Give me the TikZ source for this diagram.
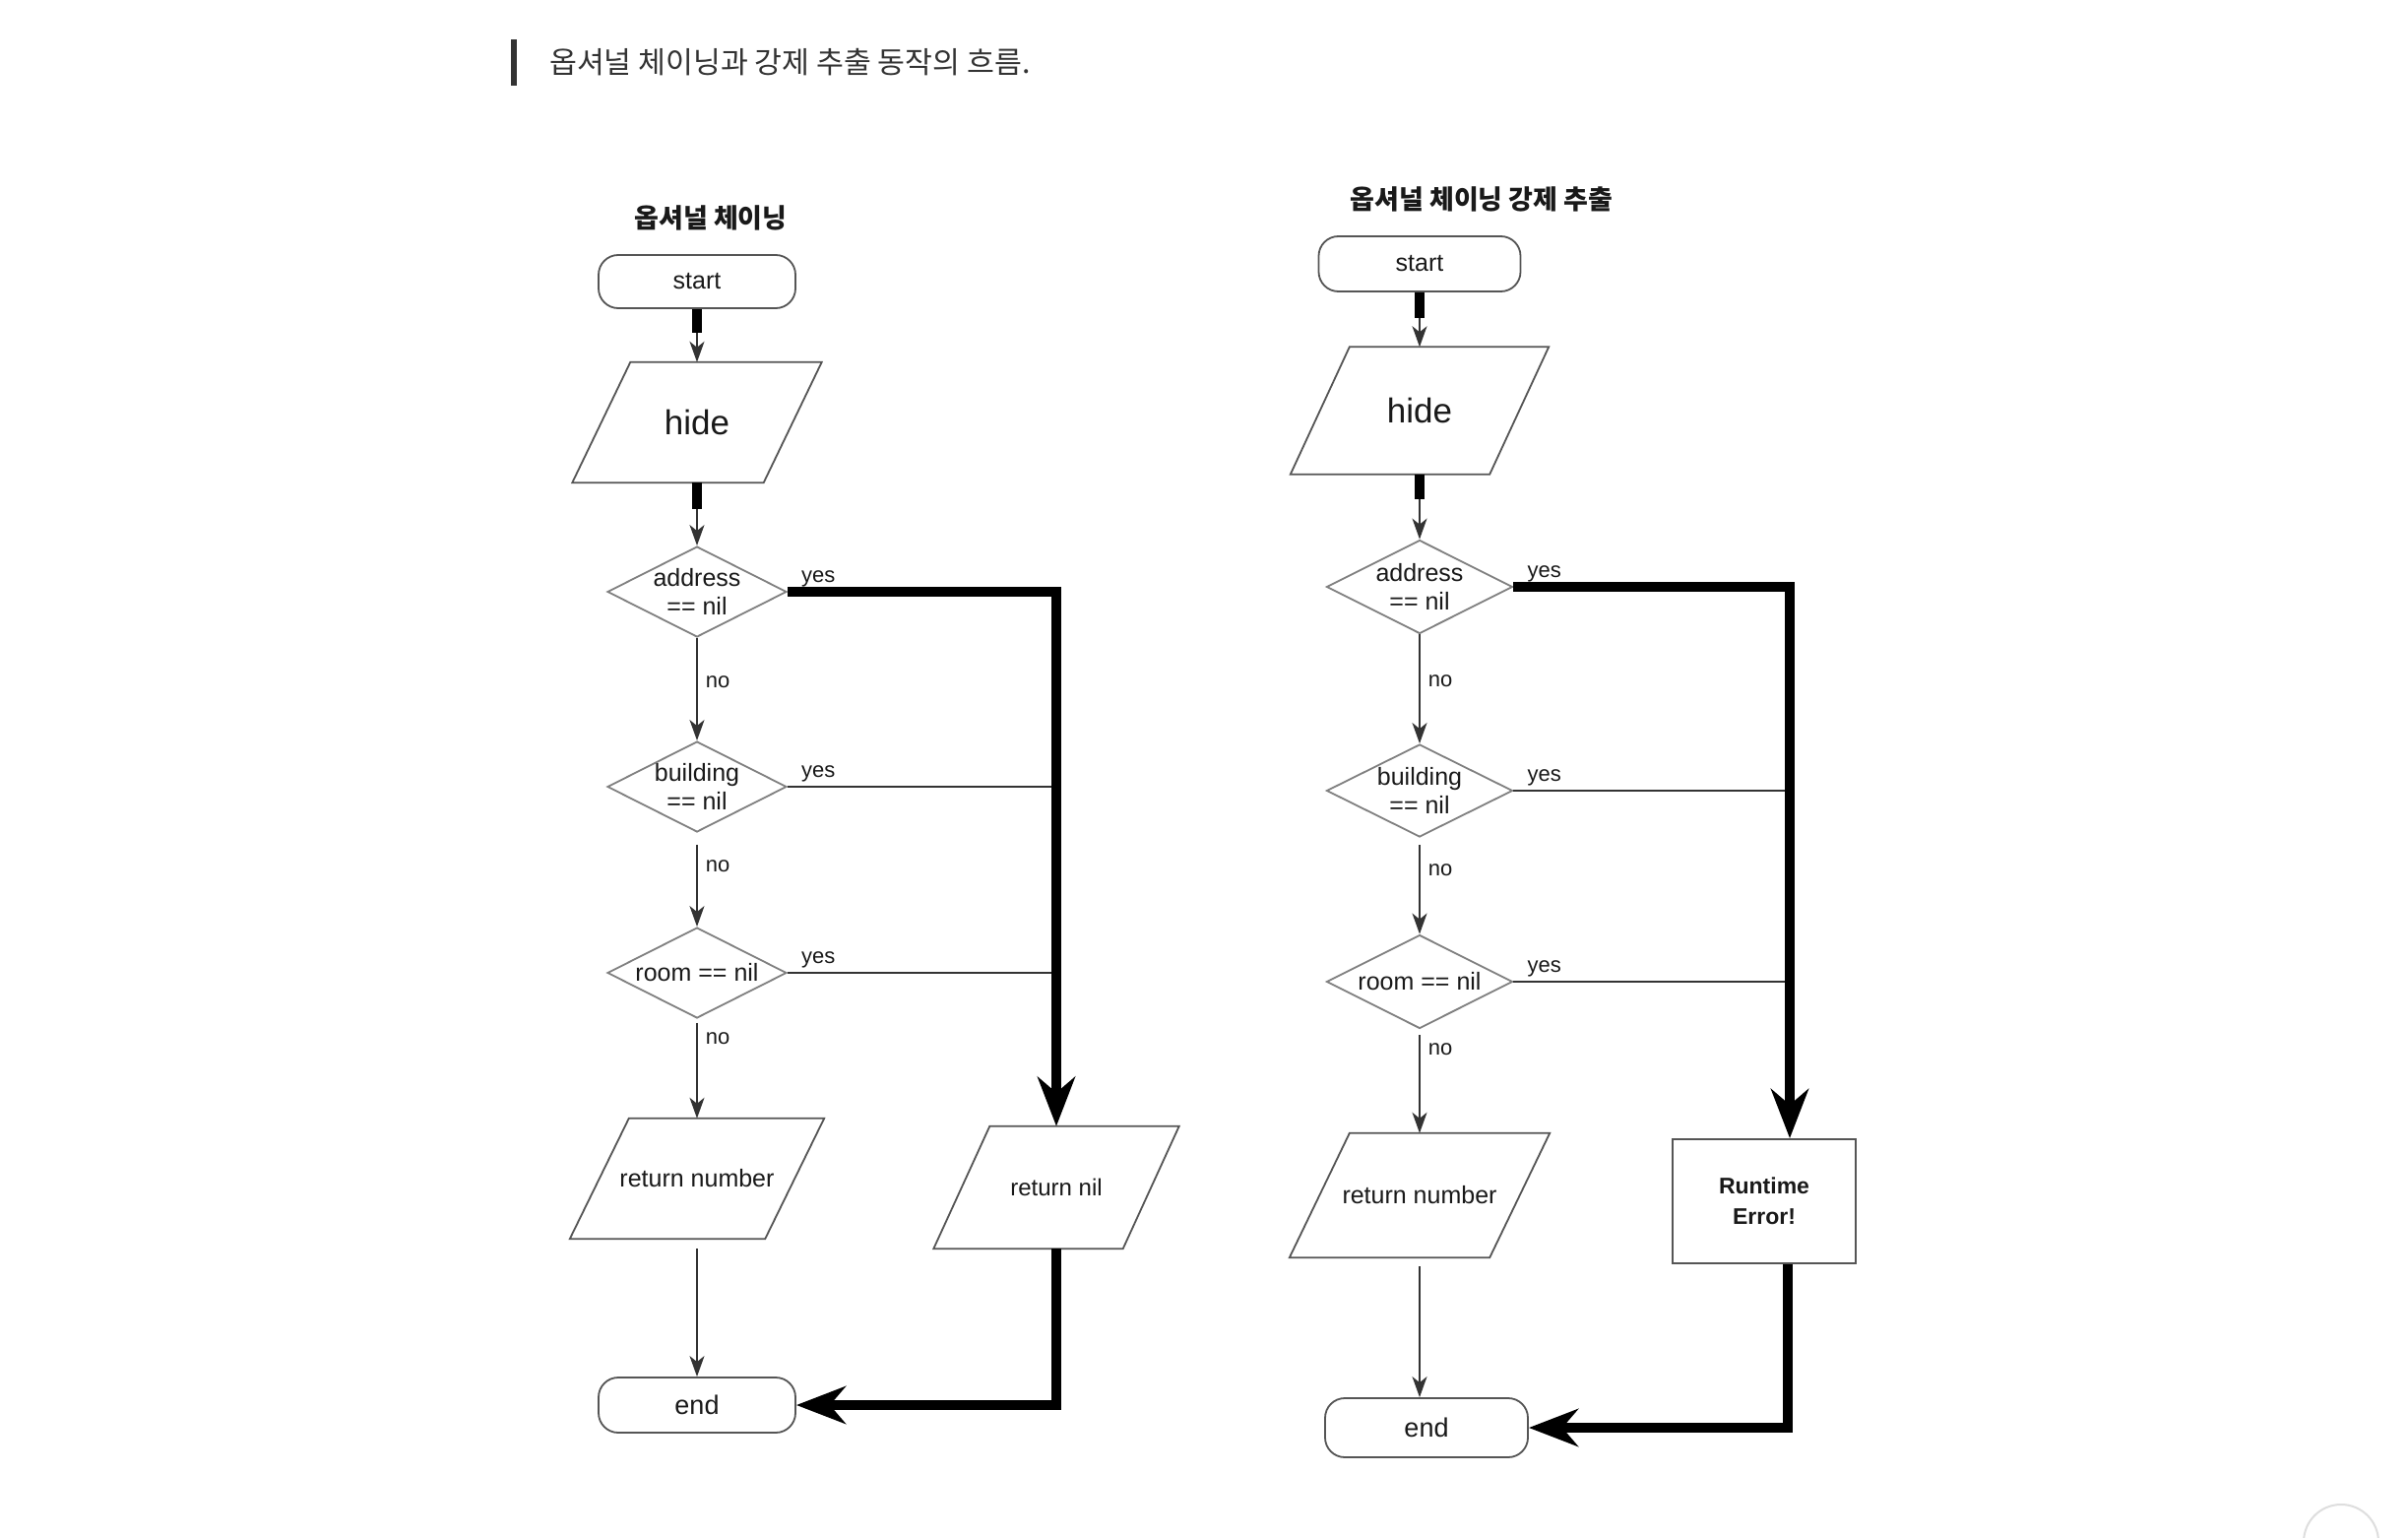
\documentclass[tikz,border=0pt]{standalone}
\usepackage{fontspec}
\setmainfont{Liberation Sans}
\newfontfamily\krfont{Noto Sans CJK KR}
\usetikzlibrary{shapes.geometric,arrows.meta,positioning}
\definecolor{hdr}{HTML}{333333}
\definecolor{edge}{HTML}{555555}
\tikzset{
	term/.style={draw=edge, line width=1.8pt, rounded corners=20pt, minimum width=200pt, minimum height=54pt, inner sep=0pt},
	io/.style={minimum width=194pt, minimum height=122pt, inner sep=0pt},
	cond/.style={diamond, aspect=2, draw=black!50, line width=1.8pt, minimum width=182pt, minimum height=92pt, inner sep=-3pt, align=center, font=\fontsize{25}{29}\selectfont},
	fail/.style={draw=edge, line width=1.8pt, minimum width=186pt, minimum height=126pt, align=center, font=\bfseries\fontsize{23}{31}\selectfont},
	ttl/.style={font=\krfont\bfseries\fontsize{27}{30}\selectfont, inner sep=0pt},
	flow/.style={draw=black!80, line width=1.6pt},
	arr/.style={flow, -{Stealth[length=21pt,width=15pt,inset=6pt]}},
	heavy/.style={draw=black, line width=10pt, -{Stealth[length=50pt,width=38pt,inset=16pt]}},
	lbl/.style={font=\fontsize{22}{24}\selectfont, inner sep=0pt},
}
\begin{document}
\begin{tikzpicture}[x=1pt, y=-1pt, line join=miter, font=\fontsize{25}{28}\selectfont, text=black!90]
	\fill[white] (0,0) rectangle (2446,1562);
	\useasboundingbox (0,0) rectangle (2446,1562);
	\fill[hdr] (519,40) rectangle (525,87);
	\node[anchor=base west, inner sep=0pt, text=hdr, font=\krfont\fontsize{30.3}{34}\selectfont] (cap) at (558,75) {옵셔널 체이닝과 강제 추출 동작의 흐름.};
	\node[ttl] (ttlL) at (722,221) {옵셔널 체이닝};
	\node[term] (startL) at (708,286) {start};
	\node[io, font=\fontsize{35}{40}\selectfont] (hideL) at (708,429) {hide};
	\node[cond] (addrL) at (708,601) {address\\== nil};
	\node[cond] (bldL) at (708,799) {building\\== nil};
	\node[cond] (roomL) at (708,988) {room == nil};
	\node[io, minimum width=198pt] (numL) at (708,1197) {return number};
	\node[io, minimum width=192pt, minimum height=124pt, font=\fontsize{24}{28}\selectfont] (nilL) at (1073,1206) {return nil};
	\node[term, minimum height=56pt, font=\fontsize{27}{30}\selectfont] (endL) at (708,1427) {end};
	\node[ttl] (ttlR) at (1505,202) {옵셔널 체이닝 강제 추출};
	\node[term, minimum width=205pt, minimum height=56pt] (startR) at (1442,268) {start};
	\node[io, minimum width=202pt, minimum height=129pt, font=\fontsize{35}{40}\selectfont] (hideR) at (1442,417) {hide};
	\node[cond, minimum width=189pt, minimum height=95pt] (addrR) at (1442,596) {address\\== nil};
	\node[cond, minimum width=189pt, minimum height=94pt] (bldR) at (1442,803) {building\\== nil};
	\node[cond, minimum width=189pt, minimum height=95pt] (roomR) at (1442,997) {room == nil};
	\node[io, minimum width=203pt, minimum height=126pt] (numR) at (1442,1214) {return number};
	\node[fail] (rteR) at (1792,1220) {Runtime\\Error!};
	\node[term, minimum width=206pt, minimum height=60pt, font=\fontsize{27}{30}\selectfont] (endR) at (1449,1450) {end};
	\foreach \n/\s in {hideL/29.5,numL/30,nilL/28.5,hideR/30,numR/30.5}
		\draw[edge, line width=1.8pt] ([xshift=\s pt]\n.north west) -- ([xshift=\s pt]\n.north east) -- ([xshift=-\s pt]\n.south east) -- ([xshift=-\s pt]\n.south west) -- cycle;
	\coordinate (rteIn) at ([xshift=26pt]rteR.north);
	\coordinate (rteOut) at ([xshift=24pt]rteR.south);
	\draw[arr] (startL) -- (hideL);
	\draw[arr] (hideL) -- (addrL);
	\draw[arr] (addrL) -- node[lbl, right=8pt, pos=.43] {no} (bldL);
	\draw[arr, shorten <=12pt] (bldL) -- node[lbl, right=8pt, pos=.36] {no} (roomL);
	\draw[arr, shorten <=4pt] (roomL) -- node[lbl, right=8pt, pos=.2] {no} (numL);
	\draw[arr, shorten <=10pt] (numL) -- (endL);
	\draw[flow] (bldL.east) -- (bldL.east -| nilL.north) (roomL.east) -- (roomL.east -| nilL.north);
	\draw[heavy] (addrL.east) -| (nilL.north);
	\draw[heavy] (nilL.south) |- (endL.east);
	\draw[arr] (startR) -- (hideR);
	\draw[arr] (hideR) -- (addrR);
	\draw[arr] (addrR) -- node[lbl, right=8pt, pos=.43] {no} (bldR);
	\draw[arr, shorten <=7pt] (bldR) -- node[lbl, right=8pt, pos=.34] {no} (roomR);
	\draw[arr, shorten <=6pt] (roomR) -- node[lbl, right=8pt, pos=.19] {no} (numR);
	\draw[arr, shorten <=9pt] (numR) -- (numR |- endR.north);
	\draw[flow] (bldR.east) -- (bldR.east -| rteIn) (roomR.east) -- (roomR.east -| rteIn);
	\draw[heavy] (addrR.east) -| (rteIn);
	\draw[heavy] (rteOut) |- (endR.east);
	\foreach \n/\l in {startL/24,hideL/27,startR/26,hideR/25} \draw[line width=10pt] (\n.south) -- ++(0,\l);
	\foreach \c in {addrL,bldL,roomL,addrR,bldR,roomR} \node[lbl, anchor=base west] at ([xshift=14pt,yshift=10pt]\c.east) {yes};
	\draw[black!13, line width=2pt] (2378,1566) circle[radius=38];
\end{tikzpicture}
\end{document}
